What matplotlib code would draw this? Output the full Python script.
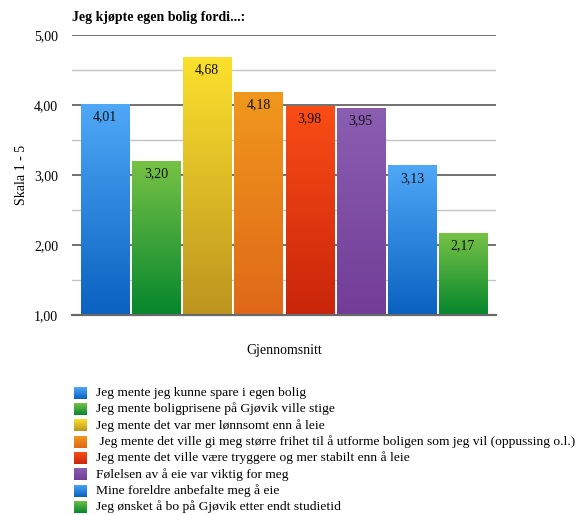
import numpy as np
import matplotlib.pyplot as plt
from matplotlib.colors import LinearSegmentedColormap

plt.rcParams['font.family'] = ['Liberation Serif', 'DejaVu Serif']

categories = [
    "Jeg mente jeg kunne spare i egen bolig",
    "Jeg mente boligprisene på Gjøvik ville stige",
    "Jeg mente det var mer lønnsomt enn å leie",
    " Jeg mente det ville gi meg større frihet til å utforme boligen som jeg vil (oppussing o.l.)",
    "Jeg mente det ville være tryggere og mer stabilt enn å leie",
    "Følelsen av å eie var viktig for meg",
    "Mine foreldre anbefalte meg å eie",
    "Jeg ønsket å bo på Gjøvik etter endt studietid",
]
values = [4.01, 3.20, 4.68, 4.18, 3.98, 3.95, 3.13, 2.17]
# (top colour, bottom colour) for each bar's vertical gradient
gradients = [
    ("#4fa8f7", "#0a61c0"),
    ("#76c245", "#05862d"),
    ("#fbe12d", "#bd941f"),
    ("#f0981d", "#df6818"),
    ("#fa4d16", "#c8250a"),
    ("#8b5eb1", "#723d97"),
    ("#4fa8f7", "#0a61c0"),
    ("#76c245", "#05862d"),
]
yticks = [1, 2, 3, 4, 5]
FS = 10

fig = plt.figure(figsize=(5.8, 5.15), dpi=100)
ax = fig.add_axes([72/580, 1-315/515, 424/580, 280/515])

# grid: dark lines on whole numbers, light ones in between
for y in np.arange(1.5, 5, 1.0):
    ax.axhline(y, color="#c4c4c4", lw=1.0, zorder=0)
for y in yticks[1:]:
    ax.axhline(y, color="#4a4a4a", lw=1.1, zorder=0)

grad = np.linspace(0, 1, 256).reshape(-1, 1)
w = 0.94
for i, (v, (c_top, c_bot)) in enumerate(zip(values, gradients)):
    cmap = LinearSegmentedColormap.from_list(f"g{i}", [c_bot, c_top])
    ax.imshow(grad, cmap=cmap, origin="lower", aspect="auto",
              extent=(i - w/2, i + w/2, 1, v), zorder=2)
    ax.annotate(f"{v:.2f}".replace(".", ","), (i, v), xytext=(0, -9),
                textcoords="offset points", ha="center", va="center",
                fontsize=FS, color="#111111", zorder=3)
ax.set_xlim(-0.646, len(values) - 1 + 0.646)
ax.set_ylim(1, 5)

ax.set_yticks(yticks)
ax.set_yticklabels([f"{t:.2f}".replace(".", ",") for t in yticks], fontsize=FS)
ax.tick_params(axis="y", length=0, pad=10)
ax.set_xticks([])
for s in ["top", "right", "left"]:
    ax.spines[s].set_visible(False)
ax.spines["bottom"].set_color("#6a6a6a")
ax.spines["bottom"].set_linewidth(1.6)

ax.set_ylabel("Skala 1 - 5", fontsize=FS, labelpad=4)
ax.set_xlabel("Gjennomsnitt", fontsize=FS, labelpad=21)
fig.text(72/580, 1-17/515, "Jeg kjøpte egen bolig fordi...:", fontsize=FS,
         fontweight="bold", va="center", ha="left")

# legend with small gradient swatches
for i, (label, (c_top, c_bot)) in enumerate(zip(categories, gradients)):
    yc = 392.7 + 16.3 * i
    sw = fig.add_axes([74/580, 1-(yc+6)/515, 12.5/580, 12/515])
    cmap = LinearSegmentedColormap.from_list(f"l{i}", [c_bot, c_top])
    sw.imshow(grad, cmap=cmap, origin="lower", aspect="auto")
    sw.axis("off")
    fig.text(96.5/580, 1-yc/515, label, fontsize=9.7, va="center", ha="left")

fig.savefig("out.png", dpi=100)
